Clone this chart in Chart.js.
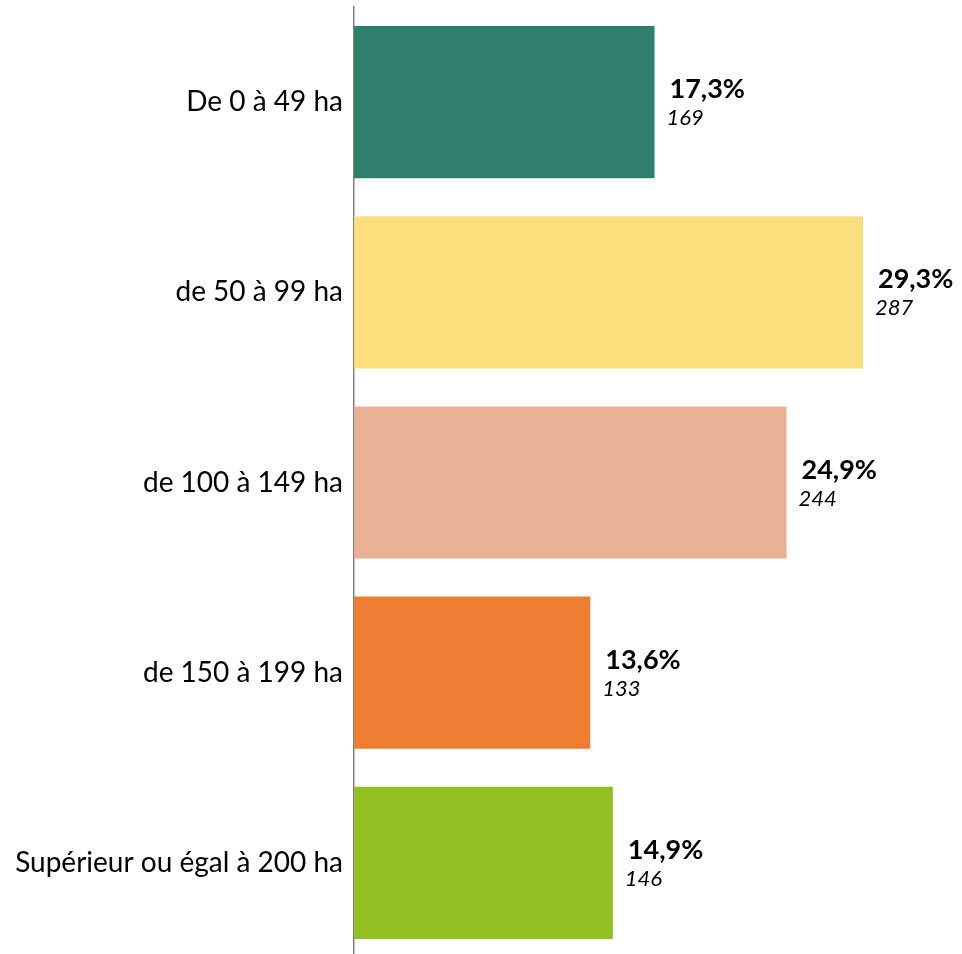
<!DOCTYPE html>
<html>
<head>
<meta charset="utf-8">
<script src="https://cdn.jsdelivr.net/npm/chart.js@4/dist/chart.umd.min.js"></script>
<style>
html,body{margin:0;padding:0;background:#fff;overflow:hidden;}
#wrap{width:962px;height:958px;position:relative;}
</style>
</head>
<body>
<div id="wrap"><canvas id="c"></canvas></div>
<script>
const categories = ["De 0 à 49 ha", "de 50 à 99 ha", "de 100 à 149 ha", "de 150 à 199 ha", "Supérieur ou égal à 200 ha"];
const percentages = [17.3, 29.3, 24.9, 13.6, 14.9];
const counts = [169, 287, 244, 133, 146];
const barColors = ["#2E7F6C", "#FCDE7E", "#E8B194", "#ED7E31", "#93C020"];

const FONT = "Lato, 'Open Sans', sans-serif";

const labelPlugin = {
  id: 'valueLabels',
  afterDatasetsDraw(chart) {
    const ctx = chart.ctx;
    const meta = chart.getDatasetMeta(0);
    meta.data.forEach((bar, i) => {
      ctx.save();
      ctx.fillStyle = '#000';
      ctx.textBaseline = 'alphabetic';
      ctx.textAlign = 'left';
      ctx.font = "bold 27px " + FONT;
      ctx.fillText(percentages[i].toFixed(1).replace('.', ',') + '%', bar.x + 15, bar.y - 4);
      ctx.font = "italic 22px " + FONT;
      ctx.fillText(String(counts[i]), bar.x + 12, bar.y + 23);
      ctx.restore();
    });
  }
};

new Chart(document.getElementById('c'), {
  type: 'bar',
  data: {
    labels: categories,
    datasets: [{
      data: percentages,
      backgroundColor: barColors,
      borderWidth: 0,
      barPercentage: 0.8,
      categoryPercentage: 1.0
    }]
  },
  options: {
    indexAxis: 'y',
    responsive: true,
    maintainAspectRatio: false,
    animation: false,
    layout: { padding: { top: 7, right: 0, bottom: 0, left: 0 } },
    plugins: { legend: { display: false }, tooltip: { enabled: false } },
    scales: {
      x: { display: false, min: 0, max: 35 },
      y: {
        afterFit(scale) { scale.width = 354; scale.paddingTop = 0; scale.paddingBottom = 0; },
        grid: { display: false, drawTicks: false },
        border: { display: true, color: '#808080', width: 1.5 },
        ticks: { color: '#000', padding: 11, font: { family: FONT, size: 28 } }
      }
    }
  },
  plugins: [labelPlugin]
});
</script>
</body>
</html>
